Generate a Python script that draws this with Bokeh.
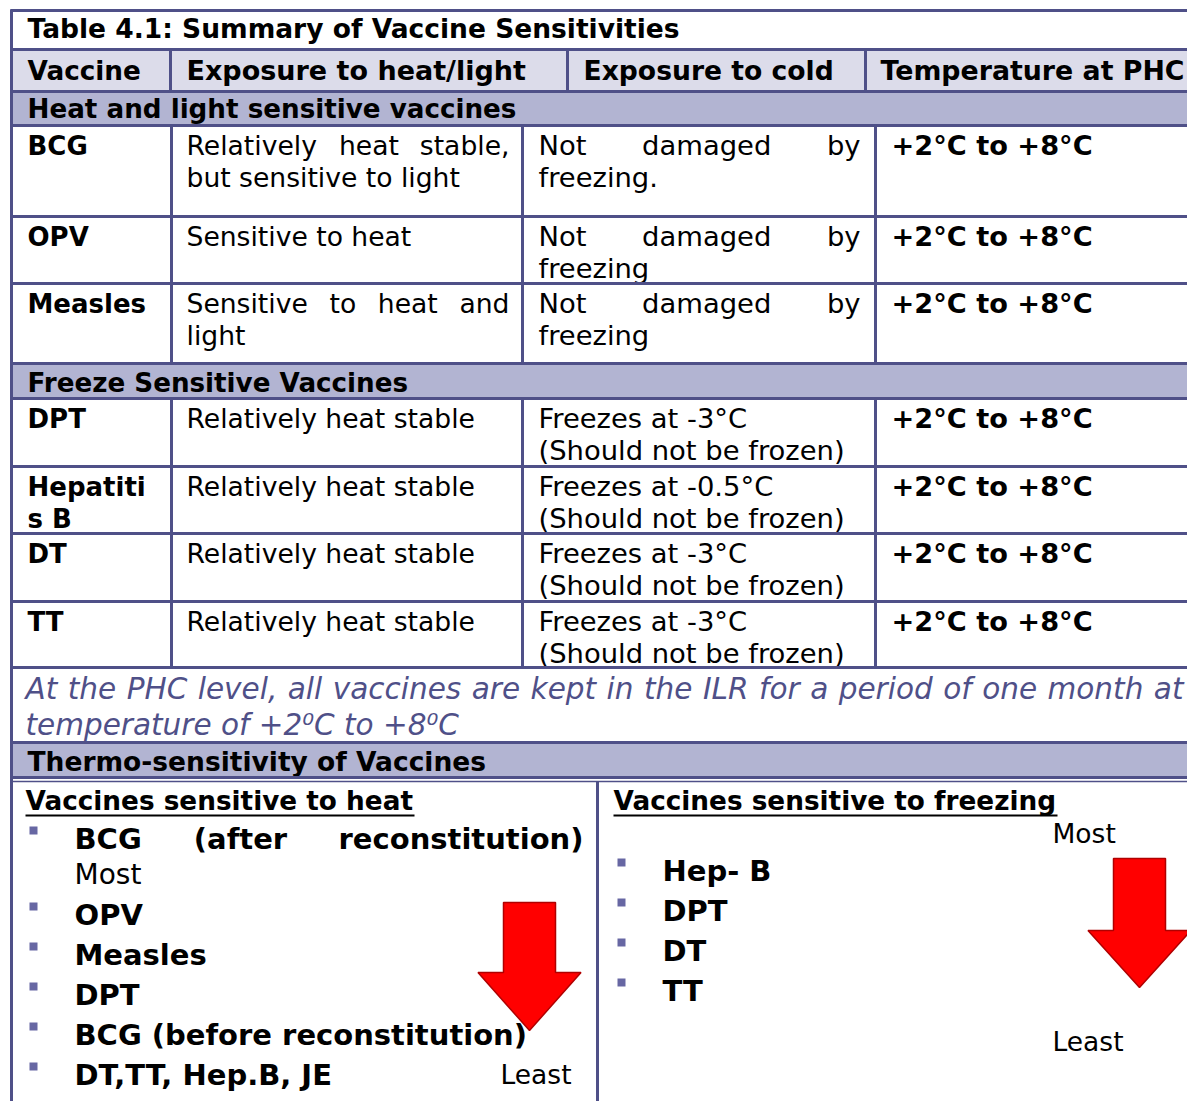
from bokeh.plotting import figure
from bokeh.models import Range1d
from bokeh.core.properties import value
from bokeh.embed import file_html
from bokeh.resources import INLINE

# ---------------- content ----------------
title = "Table 4.1: Summary of Vaccine Sensitivities"
columns = ["Vaccine", "Exposure to heat/light", "Exposure to cold", "Temperature at PHC"]
groups = ["Heat and light sensitive vaccines", "Freeze Sensitive Vaccines"]
vaccines = [["BCG"], ["OPV"], ["Measles"], ["DPT"], ["Hepatiti", "s B"], ["DT"], ["TT"]]
heat_light = [["Relatively heat stable,", "but sensitive to light"],
              ["Sensitive to heat"],
              ["Sensitive to heat and", "light"],
              ["Relatively heat stable"],
              ["Relatively heat stable"],
              ["Relatively heat stable"],
              ["Relatively heat stable"]]
cold = [["Not damaged by", "freezing."],
        ["Not damaged by", "freezing"],
        ["Not damaged by", "freezing"],
        ["Freezes at -3°C", "(Should not be frozen)"],
        ["Freezes at -0.5°C", "(Should not be frozen)"],
        ["Freezes at -3°C", "(Should not be frozen)"],
        ["Freezes at -3°C", "(Should not be frozen)"]]
temperature = ["+2°C to +8°C", "+2°C to +8°C", "+2°C to +8°C", "+2°C to +8°C",
               "+2°C to +8°C", "+2°C to +8°C", "+2°C to +8°C"]
note = ["At the PHC level, all vaccines are kept in the ILR for a period of one month at",
        "temperature of +2\u2070C to +8\u2070C"]
thermo_title = "Thermo-sensitivity of Vaccines"
heat_title = "Vaccines sensitive to heat"
heat_list = ["BCG (after reconstitution)", "OPV", "Measles", "DPT",
             "BCG (before reconstitution)", "DT,TT, Hep.B, JE"]
freeze_title = "Vaccines sensitive to freezing"
freeze_list = ["Hep- B", "DPT", "DT", "TT"]
scale_labels = ["Most", "Least"]

# ---------------- style / layout ----------------
FONT = "DejaVu Sans"
BORDER = "#4f5088"
HEAD_BG = "#dcdcea"
SECT_BG = "#b2b4d2"
NOTE_C = "#4f5088"
BULLET_C = "#6767a3"
RED = "#ff0000"
RIGHT = 1200
TY = -10  # baseline correction of the svg text renderer

# DejaVu Sans advance widths (em) used to justify lines
ADV = {" ": .318, ",": .318, ".": .318, "A": .684, "C": .698, "H": .752, "I": .295, "L": .557,
       "N": .748, "P": .603, "R": .695, "S": .635, "a": .613, "b": .635, "c": .550,
       "d": .635, "e": .615, "f": .352, "g": .635, "h": .634, "i": .278, "k": .579,
       "l": .278, "m": .974, "n": .634, "o": .612, "p": .635, "r": .411, "s": .521,
       "t": .392, "u": .634, "v": .592, "y": .592}


def width_of(s, size):
    return sum(ADV.get(ch, .6) for ch in s) * size


JUSTIFY = {"Relatively heat stable,": (186, 509),
           "Sensitive to heat and": (186, 509),
           "Not damaged by": (538, 860),
           note[0]: (25, 1183)}
# bold justified line: word centres
BOLD_JUSTIFY = {"BCG (after reconstitution)": (74, 583, [240])}

W, H = 1187, 1101
p = figure(width=W, height=H, x_range=Range1d(0, W), y_range=Range1d(H, 0),
           output_backend="svg", toolbar_location=None, min_border=0,
           x_axis_location=None, y_axis_location=None)
p.grid.visible = False
p.outline_line_color = None
p.background_fill_color = "white"


def txt(x, y, s, size, style="normal", color="black", align="left"):
    p.text(x=[x], y=[y + TY], text=[s], text_font=value(FONT), text_font_size=f"{size}px",
           text_font_style=style, text_color=color, text_align=align,
           text_baseline="alphabetic")


def line_text(x, y, s, size, style="normal", color="black"):
    if s in JUSTIFY:
        x0, x1 = JUSTIFY[s]
        words = s.split()
        ws = [width_of(w, size) for w in words]
        gap = (x1 - x0 - sum(ws)) / (len(words) - 1)
        cx = x0
        for w, wd in zip(words, ws):
            txt(cx, y, w, size, style, color, "left")
            cx += wd + gap
    elif s in BOLD_JUSTIFY:
        x0, x1, mids = BOLD_JUSTIFY[s]
        words = s.split()
        txt(x0, y, words[0], size, style, color, "left")
        for w, c in zip(words[1:-1], mids):
            txt(c, y, w, size, style, color, "center")
        txt(x1, y, words[-1], size, style, color, "right")
    else:
        txt(x, y, s, size, style, color, "left")


def hline(y, x0=10, x1=RIGHT, w=3):
    p.segment(x0=[x0], y0=[y], x1=[x1], y1=[y], line_color=BORDER, line_width=w)


def vline(x, y0, y1, w=3):
    p.segment(x0=[x], y0=[y0], x1=[x], y1=[y1], line_color=BORDER, line_width=w)


def band(top, bottom, color):
    p.quad(left=[11], right=[RIGHT], top=[top], bottom=[bottom], fill_color=color, line_color=None)


# backgrounds
band(50, 91, HEAD_BG)
band(91, 125, SECT_BG)
band(363, 398, SECT_BG)
band(742, 778, SECT_BG)

# title and header
txt(27, 38, title, 26.5, "bold")
head_x = [27, 186, 583, 880]
head_fs = [26.3, 27, 26.6, 26.8]
for hx, c, fs in zip(head_x, columns, head_fs):
    txt(hx, 80, c, fs, "bold")

# group rows
group_base = [118, 392]
for gy, g in zip(group_base, groups):
    txt(27, gy, g, 26.2, "bold")

# data rows
row_tops = [126, 217, 284, 399, 467, 534, 602]
col_x = [27, 186, 538, 891]
LH = 32
for i in range(len(vaccines)):
    base = row_tops[i] + 29
    for k, s in enumerate(vaccines[i]):
        txt(col_x[0], base + k * LH, s, 26, "bold")
    for k, s in enumerate(heat_light[i]):
        line_text(col_x[1], base + k * LH, s, 26.6)
    for k, s in enumerate(cold[i]):
        line_text(col_x[2], base + k * LH, s, 27.4)
    txt(col_x[3], base, temperature[i], 27.2, "bold")

# note
line_text(25, 698, note[0], 29.5, "italic", NOTE_C)
txt(25, 734, note[1], 29.5, "italic", NOTE_C)

# thermo-sensitivity
txt(27, 771, thermo_title, 26.5, "bold")
txt(25, 810, heat_title, 26.3, "bold")
p.segment(x0=[25], y0=[815], x1=[414], y1=[815], line_color="black", line_width=2)
txt(613, 810, freeze_title, 26.3, "bold")
p.segment(x0=[613], y0=[815], x1=[1057], y1=[815], line_color="black", line_width=2)

LFS = 29
# heat list
heat_base = [848, 924, 964, 1004, 1044, 1084]
for yb, s in zip(heat_base, heat_list):
    p.rect(x=[33], y=[yb - 18], width=8, height=8, fill_color=BULLET_C, line_color=None)
    line_text(74, yb, s, LFS, "bold")
txt(74, 884, scale_labels[0], 28)
txt(500, 1084, scale_labels[1], 26.5)

# freeze list
freeze_base = [880, 920, 960, 1000]
for yb, s in zip(freeze_base, freeze_list):
    p.rect(x=[621], y=[yb - 18], width=8, height=8, fill_color=BULLET_C, line_color=None)
    txt(662, yb, s, LFS, "bold")
txt(1052, 843, scale_labels[0], 26.5)
txt(1052, 1051, scale_labels[1], 26.5)


# arrows (decoration)
def arrow(cx, top, shaft_w, head_y, head_w, tip):
    xs = [cx - shaft_w / 2, cx + shaft_w / 2, cx + shaft_w / 2, cx + head_w / 2, cx,
          cx - head_w / 2, cx - shaft_w / 2]
    ys = [top, top, head_y, head_y, tip, head_y, head_y]
    p.patch(x=xs, y=ys, fill_color=RED, line_color="#b00000", line_width=1.5)


arrow(529, 902, 52, 972, 103, 1030)
arrow(1139, 858, 52, 930, 103, 987)

# grid lines
for y in [10, 49, 91, 125, 216, 283, 363, 398, 466, 533, 601, 667, 742, 777]:
    hline(y)
hline(781, w=1.5)
vline(11, 9, 1101)
for x in [170, 567, 865]:
    vline(x, 49, 91)
for x in [171, 522, 875]:
    vline(x, 125, 363)
    vline(x, 398, 667)
vline(597, 781, 1101)

open("out.html", "w").write(file_html(p, INLINE))
